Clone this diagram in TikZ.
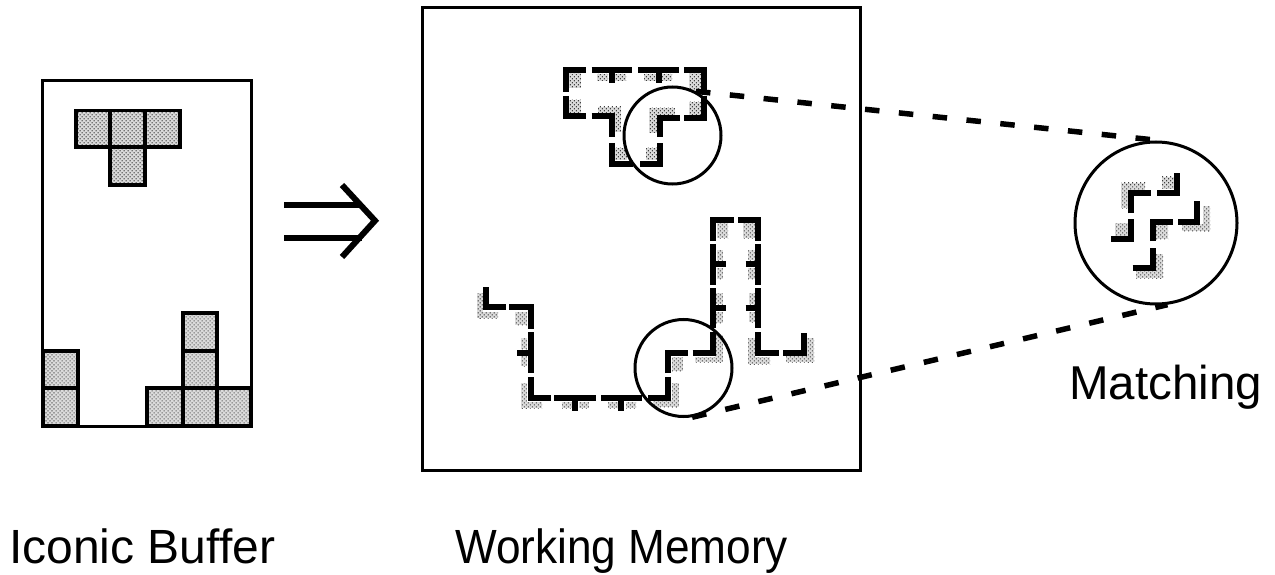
\documentclass[tikz,border=0pt]{standalone}
\usepackage{fontspec}
\usetikzlibrary{patterns.meta}
\setmainfont{Liberation Sans}
\tikzset{
  x=1pt,y=-1pt,
  dither/.style={preaction={fill=black!14},pattern={Dots[distance=2.83pt,radius=.75pt,angle=45]},pattern color=black!75},
  frame/.style={draw=black,line width=3pt,rectangle,inner sep=0pt,fill=none},
  ring/.style={draw=black,line width=3pt,circle,inner sep=0pt,fill=none},
  cell/.style={draw=black,line width=3.6pt,dither},
  shade/.style={dither,draw=none},
  seg/.style={draw=black,line width=6pt,line cap=butt,line join=miter},
  link/.style={draw=black,line width=5.5pt,dash pattern=on 14.5pt off 19.5pt},
  imply/.style={draw=black,line width=6pt,line join=miter},
  lab/.style={font=\fontsize{48}{48}\selectfont,anchor=base west,inner sep=0pt}
}
\begin{document}
\begin{tikzpicture}
\useasboundingbox (0,0) rectangle (1275,575);
% iconic buffer
\node[frame,minimum width=209pt,minimum height=346pt] (buffer) at (146.5,253.5) {};
\foreach \a/\b/\c/\d in {75.7/110.7/110/147,110/110.7/145/147,145/110.7/180/147,110/147/145/185,
  43/351/78/388,43/388/78/426,147/388/183/426,183/388/217/426,217/388/251/426,183/313/217/351,183/351/217/388}
  \draw[cell] (\a,\b) rectangle (\c,\d);
% implication arrow
\coordinate (ia) at (284.3,205); \coordinate (ib) at (362,205);
\coordinate (ic) at (284.3,237.7); \coordinate (id) at (362,237.7);
\coordinate (ie) at (342,185); \coordinate (if) at (375,220.7); \coordinate (ig) at (342,257);
\draw[imply] (ia) -- (ib);
\draw[imply] (ic) -- (id);
\draw[imply] (ie) -- (if) -- (ig);
% working memory
\node[frame,minimum width=438pt,minimum height=462pt] (memory) at (641,239) {};
% shading: upper shape
\foreach \a/\b/\c/\d in {569/73/581/88,597/74/608/81,615/74/626/81,644/74/656/81,662/74/672/81,689/73/702/92,
  569/100/581/113,598/107/621/113,614/113/621/132,649/108/675/115,649/115/657/133,689/102/702/115,615/148/627/160,646/148/657/160,
% shading: lower shape
  477/293/483/318,477/312/498/318,515/312/527/325,521/338/527/349,521/356/527/366,521/383/527/408,521/402/542/408,
  562/402/572/408,579/402/589/408,608/402/618/408,626/402/636/408,653/400/679/407,672/383/679/407,672/357/683/371,
  695/357/723/362,715/335/723/362,716/312/723/323,716/293/723/304,717/268/723/279,717/250/723/260,717/223/728/238,
  743/223/755/238,748/250/755/260,748/268/755/279,749/293/756/304,749/312/756/322,748/338/755/364,748/357/770/364,807/338/814/362,786/356/814/362,
% shading: matching detail
  1121/183/1128/208,1121/183/1145/190,1162/177/1174/189,1203/206/1210/231,1182/224/1210/231,1156/225/1168/239,1115/223/1128/236,1156/254/1163/278,1136/271/1163/278}
  \fill[shade] (\a,\b) rectangle (\c,\d);
% upper shape outline
\draw[seg] (565.5,92) -- (565.5,70) -- (586,70);
\draw[seg] (591.7,70) -- (632,70) (611.7,70) -- (611.7,83);
\draw[seg] (638,70) -- (679,70) (659,70) -- (659,83);
\draw[seg] (684,70) -- (704,70) -- (704,92);
\draw[seg] (565.5,96) -- (565.5,116) -- (586,116);
\draw[seg] (591.7,116) -- (611.7,116) -- (611.7,137);
\draw[seg] (660,137) -- (660,118) -- (680,118);
\draw[seg] (684,118) -- (704,118) -- (704,96);
\draw[seg] (611.7,143) -- (611.7,164) -- (633,164);
\draw[seg] (640,164) -- (660,164) -- (660,143);
% lower shape outline
\draw[seg] (486,287) -- (486,307) -- (506,307);
\draw[seg] (509.3,307) -- (530.7,307) -- (530.7,329);
\draw[seg] (530.7,332) -- (530.7,373) (517,352.7) -- (530.7,352.7);
\draw[seg] (530.7,377) -- (530.7,398) -- (550.7,398);
\draw[seg] (554,398) -- (596,398) (575,398) -- (575,410.7);
\draw[seg] (601,398) -- (641.7,398) (621,398) -- (621,410.7);
\draw[seg] (648,398) -- (668,398) -- (668,377);
\draw[seg] (668,373) -- (668,352.7) -- (688,352.7);
\draw[seg] (692.7,352.7) -- (713,352.7) -- (713,332);
\draw[seg] (713,288) -- (713,328) (713,307.7) -- (725.7,307.7);
\draw[seg] (713,244) -- (713,285) (713,264) -- (725.7,264);
\draw[seg] (713,241) -- (713,220) -- (734,220);
\draw[seg] (738,220) -- (758.3,220) -- (758.3,241);
\draw[seg] (758.3,244) -- (758.3,285) (745.7,264) -- (758.3,264);
\draw[seg] (758.3,288) -- (758.3,328) (745.7,307.7) -- (758.3,307.7);
\draw[seg] (758.3,332) -- (758.3,352.7) -- (779,352.7);
\draw[seg] (783.3,352.7) -- (804,352.7) -- (804,333);
% matching detail
\draw[seg] (1131,213.3) -- (1131,193.3) -- (1150.7,193.3);
\draw[seg] (1157,193.3) -- (1176.7,193.3) -- (1176.7,172.7);
\draw[seg] (1178,221.7) -- (1197,221.7) -- (1197,201);
\draw[seg] (1152.7,241) -- (1152.7,221.7) -- (1173,221.7);
\draw[seg] (1111,239.3) -- (1131,239.3) -- (1131,219);
\draw[seg] (1132.7,267.7) -- (1152.7,267.7) -- (1152.7,248);
% circles and connectors
\node[ring,minimum size=97pt] (wmtop) at (672.5,135.5) {};
\node[ring,minimum size=97pt] (wmlow) at (683.5,368) {};
\node[ring,minimum size=162pt] (match) at (1156,223) {};
\draw[link] (wmtop.62) -- (match.87);
\draw[link] (wmlow.-80) -- (match.-82);
% labels
\node[lab] (l1) at (9,563) {Iconic Buffer};
\node[lab] (l2) at (455,563) {\scalebox{0.92}[1]{Working Memory}};
\node[lab] (l3) at (1069,399) {\fontsize{47.5}{48}\selectfont Matching};
\end{tikzpicture}
\end{document}
